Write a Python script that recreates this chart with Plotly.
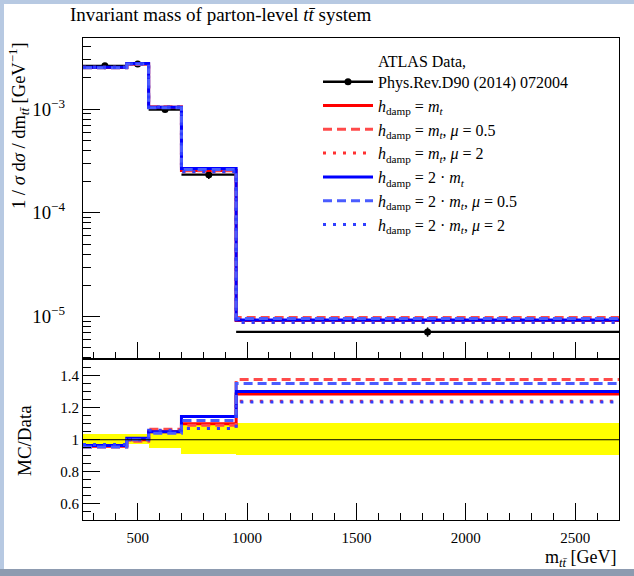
import plotly.graph_objects as go

# Bin edges of the parton-level m_tt distribution [GeV]
bin_edges = [250, 450, 550, 700, 950, 2700]

# ATLAS unfolded data, 1/sigma dsigma/dm_tt [GeV^-1], and relative uncertainty
data_values = [2.62e-3, 2.72e-3, 0.99e-3, 2.33e-4, 7.1e-6]
data_rel_unc = [0.03, 0.03, 0.055, 0.09, 0.10]

# Powheg+Pythia predictions for different hdamp / scale choices
hdamp_mt = [2.515e-3, 2.72e-3, 1.040e-3, 2.563e-4, 9.12e-6]
hdamp_mt_mu05 = [2.502e-3, 2.693e-3, 1.054e-3, 2.540e-4, 9.76e-6]
hdamp_mt_mu2 = [2.541e-3, 2.72e-3, 1.044e-3, 2.493e-4, 8.80e-6]
hdamp_2mt = [2.528e-3, 2.747e-3, 1.040e-3, 2.668e-4, 9.23e-6]
hdamp_2mt_mu05 = [2.502e-3, 2.72e-3, 1.030e-3, 2.610e-4, 9.585e-6]
hdamp_2mt_mu2 = [2.541e-3, 2.72e-3, 1.049e-3, 2.493e-4, 8.77e-6]

SERIF = "Liberation Serif"
W, H = 634, 576
ML, MR, MT, MB = 83, 15, 38, 56
PW, PH = W - ML - MR, H - MT - MB
SPLIT = 0.333  # fraction of plot height given to the ratio panel


def px_x(px):
    return (px - ML) / PW


def px_y(py):
    return (H - MB - py) / PH


centers = [(a + b) / 2 for a, b in zip(bin_edges[:-1], bin_edges[1:])]
half_widths = [(b - a) / 2 for a, b in zip(bin_edges[:-1], bin_edges[1:])]
data_abs_unc = [v * r for v, r in zip(data_values, data_rel_unc)]

H_DAMP = "<i>h</i><sub>damp</sub>"
M_T = "<i>m</i><sub><i>t</i></sub>"
MU = "<i>μ</i>"

series = [
    (hdamp_mt, f"{H_DAMP} = {M_T}", "#ff0000", "solid"),
    (hdamp_mt_mu05, f"{H_DAMP} = {M_T}, {MU} = 0.5", "#ff4a4a", "9px,5px"),
    (hdamp_mt_mu2, f"{H_DAMP} = {M_T}, {MU} = 2", "#ff3030", "3px,7px"),
    (hdamp_2mt, f"{H_DAMP} = 2 · {M_T}", "#0000ff", "solid"),
    (hdamp_2mt_mu05, f"{H_DAMP} = 2 · {M_T}, {MU} = 0.5", "#4a5cff", "9px,5px"),
    (hdamp_2mt_mu2, f"{H_DAMP} = 2 · {M_T}, {MU} = 2", "#3040ff", "3px,7px"),
]

fig = go.Figure()

# Data points with full-bin horizontal bars
fig.add_trace(go.Scatter(
    x=centers, y=data_values, mode="markers",
    marker=dict(color="black", size=7),
    error_x=dict(type="data", array=half_widths, width=0, thickness=2.2, color="black"),
    error_y=dict(type="data", array=data_abs_unc, width=0, thickness=1.5, color="black"),
    xaxis="x", yaxis="y", showlegend=False, hoverinfo="skip",
))
# Legend entry for the data
fig.add_trace(go.Scatter(
    x=[None], y=[None], mode="lines+markers",
    line=dict(color="black", width=2.5), marker=dict(color="black", size=7),
    name="ATLAS Data,<br>Phys.Rev.D90 (2014) 072004",
    legendgroup="data", xaxis="x", yaxis="y",
))

# Yellow data uncertainty band in the ratio panel
fig.add_trace(go.Bar(
    x=centers, y=[2 * r for r in data_rel_unc], base=[1 - r for r in data_rel_unc],
    width=[2 * h for h in half_widths], marker=dict(color="#ffff00", line=dict(width=0)),
    xaxis="x2", yaxis="y2", showlegend=False, hoverinfo="skip",
))

for i, (vals, name, color, dash) in enumerate(series):
    step_y = vals + [vals[-1]]
    fig.add_trace(go.Scatter(
        x=bin_edges, y=step_y, mode="lines", line_shape="hv",
        line=dict(color=color, width=3, dash=dash),
        name=name, legendgroup=f"g{i}", xaxis="x", yaxis="y",
    ))
    ratio = [m / d for m, d in zip(vals, data_values)]
    fig.add_trace(go.Scatter(
        x=bin_edges, y=ratio + [ratio[-1]], mode="lines", line_shape="hv",
        line=dict(color=color, width=3, dash=dash),
        showlegend=False, legendgroup=f"g{i}", xaxis="x2", yaxis="y2",
    ))

tick_font = dict(family=SERIF, size=15, color="black")
axis_common = dict(
    showline=True, linecolor="black", linewidth=1, mirror=True,
    showgrid=False, zeroline=False, ticks="inside", tickcolor="black",
    tickwidth=1, tickfont=tick_font,
)

fig.update_layout(
    width=W, height=H,
    margin=dict(l=ML, r=MR, t=MT, b=MB, pad=0, autoexpand=False),
    paper_bgcolor="white", plot_bgcolor="white",
    font=dict(family=SERIF, size=17, color="black"),
    barmode="overlay", bargap=0,
    xaxis=dict(
        **axis_common, domain=[0, 1], anchor="y", range=[250, 2700],
        matches="x2", showticklabels=False, tick0=0, dtick=500, ticklen=17,
        minor=dict(ticks="inside", dtick=100, ticklen=7, tickcolor="black"),
    ),
    yaxis=dict(
        **axis_common, domain=[SPLIT, 1], anchor="x", type="log",
        range=[-5.415, -2.314], dtick=1, exponentformat="power", ticklen=17,
        ticklabelstandoff=14,
        minor=dict(ticks="inside", ticklen=8, tickcolor="black"),
    ),
    xaxis2=dict(
        **axis_common, domain=[0, 1], anchor="y2", range=[250, 2700],
        tick0=0, dtick=500, ticklen=17, ticklabelstandoff=4,
        minor=dict(ticks="inside", dtick=100, ticklen=7, tickcolor="black"),
    ),
    yaxis2=dict(
        **axis_common, domain=[0, SPLIT], anchor="x2", range=[0.5, 1.5],
        tickvals=[0.6, 0.8, 1.0, 1.2, 1.4], ticktext=["0.6", "0.8", "1", "1.2", "1.4"],
        ticklen=17,
        minor=dict(ticks="inside", dtick=0.05, tick0=0, ticklen=8, tickcolor="black"),
    ),
    legend=dict(
        x=px_x(318), y=px_y(44), xanchor="left", yanchor="top",
        bgcolor="rgba(0,0,0,0)", borderwidth=0,
        font=dict(family=SERIF, size=16, color="black"),
        itemwidth=50, valign="bottom", tracegroupgap=0,
        traceorder="grouped",
    ),
    shapes=[
        # reference line at ratio 1
        dict(type="line", xref="x2", yref="y2", x0=250, x1=2700, y0=1, y1=1,
             line=dict(color="black", width=1), layer="above"),
        # window frame strips
        dict(type="rect", xref="paper", yref="paper", x0=px_x(0), x1=px_x(4),
             y0=px_y(H), y1=px_y(0), fillcolor="#b7c9e2", line=dict(width=0), layer="below"),
        dict(type="rect", xref="paper", yref="paper", x0=px_x(0), x1=px_x(W),
             y0=px_y(4), y1=px_y(0), fillcolor="#b7c9e2", line=dict(width=0), layer="below"),
        dict(type="rect", xref="paper", yref="paper", x0=px_x(0), x1=px_x(W),
             y0=px_y(H), y1=px_y(569), fillcolor="#8d9bb0", line=dict(width=0), layer="below"),
    ],
    annotations=[
        dict(text="Invariant mass of parton-level <i>t</i><i>t̄</i> system",
             xref="paper", yref="paper", x=px_x(68), y=px_y(15),
             xanchor="left", yanchor="middle", showarrow=False,
             font=dict(family=SERIF, size=19)),
        dict(text="1 / <i>σ</i> d<i>σ</i> / dm<sub><i>tt̄</i></sub> [GeV<sup>−1</sup>]",
             xref="paper", yref="paper", x=px_x(18), y=px_y(126), textangle=-90,
             xanchor="center", yanchor="middle", showarrow=False,
             font=dict(family=SERIF, size=18.5)),
        dict(text="MC/Data",
             xref="paper", yref="paper", x=px_x(24), y=px_y(441), textangle=-90,
             xanchor="center", yanchor="middle", showarrow=False,
             font=dict(family=SERIF, size=19)),
        dict(text="m<sub><i>tt̄</i></sub> [GeV]",
             xref="paper", yref="paper", x=1, y=px_y(558),
             xanchor="right", yanchor="middle", showarrow=False,
             font=dict(family=SERIF, size=18)),
    ],
)

fig.write_html("out.html")
